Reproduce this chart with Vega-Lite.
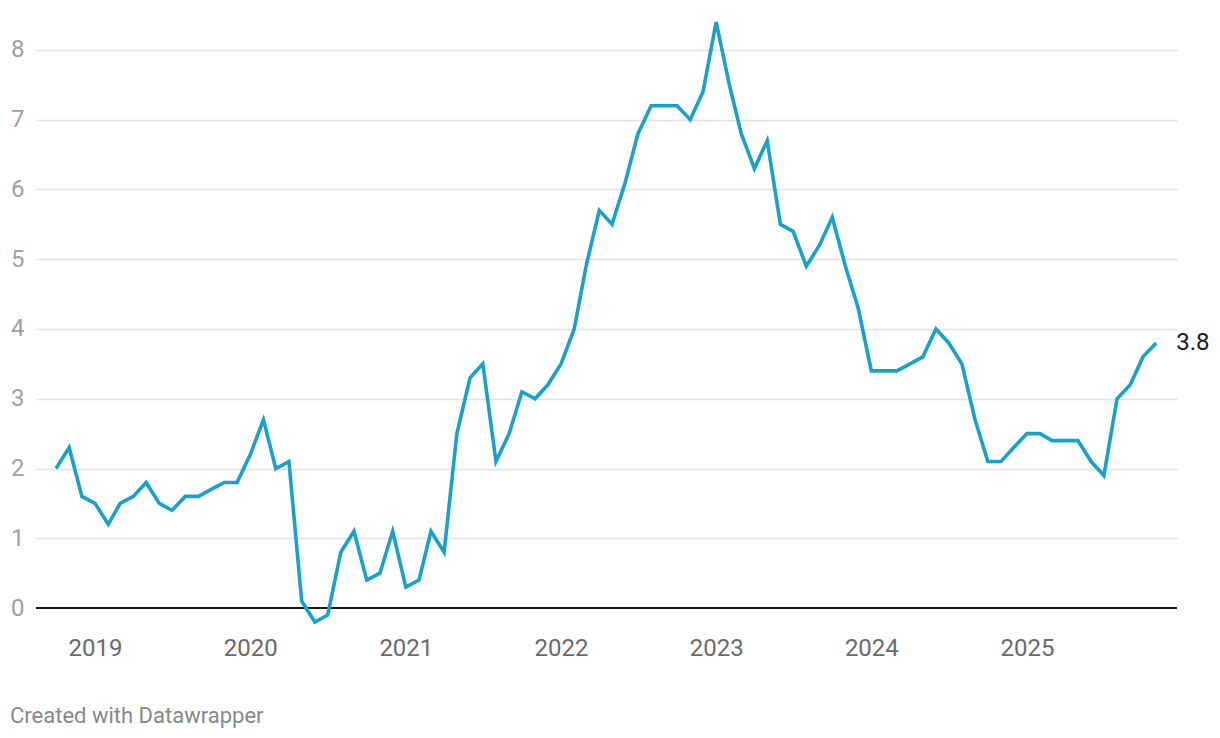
{
  "$schema": "https://vega.github.io/schema/vega-lite/v6.json",
  "autosize": "none",
  "width": 1141,
  "height": 600,
  "padding": {"left": 36, "top": 22, "right": 43, "bottom": 116},
  "background": "white",
  "config": {
    "font": "Roboto",
    "view": {"stroke": null}
  },
  "title": {
    "text": "Created with Datawrapper",
    "orient": "bottom",
    "anchor": "start",
    "frame": "group",
    "dx": -26,
    "offset": 46,
    "fontSize": 22,
    "fontWeight": "normal",
    "color": "#888888",
    "font": "Roboto"
  },
  "data": {
    "values": [
      {"date": "2018-10-01", "value": 2.0},
      {"date": "2018-11-01", "value": 2.3},
      {"date": "2018-12-01", "value": 1.6},
      {"date": "2019-01-01", "value": 1.5},
      {"date": "2019-02-01", "value": 1.2},
      {"date": "2019-03-01", "value": 1.5},
      {"date": "2019-04-01", "value": 1.6},
      {"date": "2019-05-01", "value": 1.8},
      {"date": "2019-06-01", "value": 1.5},
      {"date": "2019-07-01", "value": 1.4},
      {"date": "2019-08-01", "value": 1.6},
      {"date": "2019-09-01", "value": 1.6},
      {"date": "2019-10-01", "value": 1.7},
      {"date": "2019-11-01", "value": 1.8},
      {"date": "2019-12-01", "value": 1.8},
      {"date": "2020-01-01", "value": 2.2},
      {"date": "2020-02-01", "value": 2.7},
      {"date": "2020-03-01", "value": 2.0},
      {"date": "2020-04-01", "value": 2.1},
      {"date": "2020-05-01", "value": 0.1},
      {"date": "2020-06-01", "value": -0.2},
      {"date": "2020-07-01", "value": -0.1},
      {"date": "2020-08-01", "value": 0.8},
      {"date": "2020-09-01", "value": 1.1},
      {"date": "2020-10-01", "value": 0.4},
      {"date": "2020-11-01", "value": 0.5},
      {"date": "2020-12-01", "value": 1.1},
      {"date": "2021-01-01", "value": 0.3},
      {"date": "2021-02-01", "value": 0.4},
      {"date": "2021-03-01", "value": 1.1},
      {"date": "2021-04-01", "value": 0.8},
      {"date": "2021-05-01", "value": 2.5},
      {"date": "2021-06-01", "value": 3.3},
      {"date": "2021-07-01", "value": 3.5},
      {"date": "2021-08-01", "value": 2.1},
      {"date": "2021-09-01", "value": 2.5},
      {"date": "2021-10-01", "value": 3.1},
      {"date": "2021-11-01", "value": 3.0},
      {"date": "2021-12-01", "value": 3.2},
      {"date": "2022-01-01", "value": 3.5},
      {"date": "2022-02-01", "value": 4.0},
      {"date": "2022-03-01", "value": 4.9},
      {"date": "2022-04-01", "value": 5.7},
      {"date": "2022-05-01", "value": 5.5},
      {"date": "2022-06-01", "value": 6.1},
      {"date": "2022-07-01", "value": 6.8},
      {"date": "2022-08-01", "value": 7.2},
      {"date": "2022-09-01", "value": 7.2},
      {"date": "2022-10-01", "value": 7.2},
      {"date": "2022-11-01", "value": 7.0},
      {"date": "2022-12-01", "value": 7.4},
      {"date": "2023-01-01", "value": 8.4},
      {"date": "2023-02-01", "value": 7.5},
      {"date": "2023-03-01", "value": 6.8},
      {"date": "2023-04-01", "value": 6.3},
      {"date": "2023-05-01", "value": 6.7},
      {"date": "2023-06-01", "value": 5.5},
      {"date": "2023-07-01", "value": 5.4},
      {"date": "2023-08-01", "value": 4.9},
      {"date": "2023-09-01", "value": 5.2},
      {"date": "2023-10-01", "value": 5.6},
      {"date": "2023-11-01", "value": 4.9},
      {"date": "2023-12-01", "value": 4.3},
      {"date": "2024-01-01", "value": 3.4},
      {"date": "2024-02-01", "value": 3.4},
      {"date": "2024-03-01", "value": 3.4},
      {"date": "2024-04-01", "value": 3.5},
      {"date": "2024-05-01", "value": 3.6},
      {"date": "2024-06-01", "value": 4.0},
      {"date": "2024-07-01", "value": 3.8},
      {"date": "2024-08-01", "value": 3.5},
      {"date": "2024-09-01", "value": 2.7},
      {"date": "2024-10-01", "value": 2.1},
      {"date": "2024-11-01", "value": 2.1},
      {"date": "2024-12-01", "value": 2.3},
      {"date": "2025-01-01", "value": 2.5},
      {"date": "2025-02-01", "value": 2.5},
      {"date": "2025-03-01", "value": 2.4},
      {"date": "2025-04-01", "value": 2.4},
      {"date": "2025-05-01", "value": 2.4},
      {"date": "2025-06-01", "value": 2.1},
      {"date": "2025-07-01", "value": 1.9},
      {"date": "2025-08-01", "value": 3.0},
      {"date": "2025-09-01", "value": 3.2},
      {"date": "2025-10-01", "value": 3.6},
      {"date": "2025-11-01", "value": 3.8}
    ]
  },
  "encoding": {
    "x": {
      "field": "date",
      "type": "temporal",
      "scale": {
        "domain": [
          {"year": 2018, "month": 8, "date": 15, "utc": true},
          {"year": 2025, "month": 12, "date": 20, "utc": true}
        ]
      },
      "axis": {
        "title": null,
        "format": "%Y",
        "formatType": "utc",
        "values": [
          {"year": 2019, "month": 1, "date": 1, "utc": true},
          {"year": 2020, "month": 1, "date": 1, "utc": true},
          {"year": 2021, "month": 1, "date": 1, "utc": true},
          {"year": 2022, "month": 1, "date": 1, "utc": true},
          {"year": 2023, "month": 1, "date": 1, "utc": true},
          {"year": 2024, "month": 1, "date": 1, "utc": true},
          {"year": 2025, "month": 1, "date": 1, "utc": true}
        ],
        "grid": false,
        "ticks": false,
        "domain": false,
        "labelFontSize": 24,
        "labelColor": "#6a6a6a",
        "labelPadding": 14,
        "labelFont": "Roboto"
      }
    },
    "y": {
      "field": "value",
      "type": "quantitative",
      "scale": {"domain": [-0.2, 8.4], "nice": false, "zero": false},
      "axis": {
        "title": null,
        "values": [0, 1, 2, 3, 4, 5, 6, 7, 8],
        "grid": true,
        "gridColor": "#e2e2e2",
        "gridWidth": 1.5,
        "ticks": false,
        "domain": false,
        "labelFontSize": 24,
        "labelColor": "#a0a0a0",
        "labelPadding": 12,
        "labelFont": "Roboto"
      }
    }
  },
  "layer": [
    {
      "mark": {"type": "rule", "color": "#1a1a1a", "strokeWidth": 1.8},
      "encoding": {"y": {"datum": 0}, "x": null}
    },
    {
      "mark": {"type": "line", "color": "#18a1cd", "strokeWidth": 3.6, "strokeJoin": "miter"}
    },
    {
      "transform": [{"filter": "utcyear(datum.date) == 2025 && utcmonth(datum.date) == 10"}],
      "mark": {"type": "text", "align": "left", "baseline": "middle", "dx": 20, "fontSize": 24, "color": "#1a1a1a", "font": "Roboto"},
      "encoding": {"text": {"field": "value", "type": "quantitative", "format": ".1f"}}
    }
  ]
}
